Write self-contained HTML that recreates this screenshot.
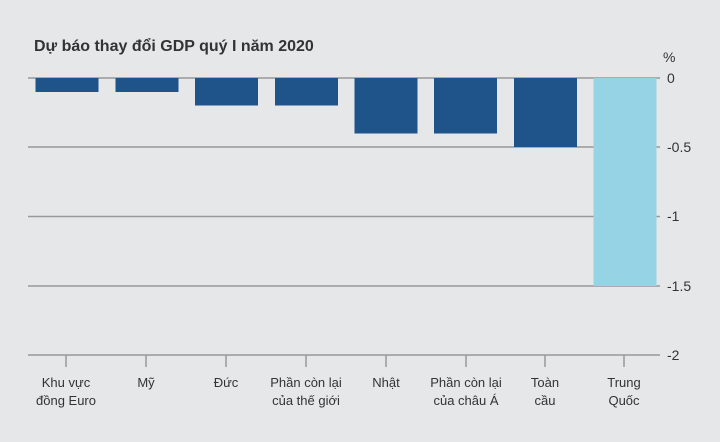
<!DOCTYPE html>
<html><head><meta charset="utf-8"><style>
body{margin:0;background:#e6e7e9;}
svg{display:block;font-family:"Liberation Sans","DejaVu Sans",sans-serif;}
</style></head><body>
<svg width="720" height="442" viewBox="0 0 720 442">
<rect width="720" height="442" fill="#e6e7e9"/>
<text x="34" y="51" font-size="16" font-weight="bold" fill="#333">Dự báo thay đổi GDP quý I năm 2020</text>
<g stroke="#999" stroke-width="1.5">
<line x1="28" x2="660" y1="147" y2="147"/>
<line x1="28" x2="660" y1="216.5" y2="216.5"/>
<line x1="28" x2="660" y1="286" y2="286"/>
<line x1="28" x2="660" y1="355" y2="355"/>
<line x1="28" x2="660" y1="78" y2="78"/>
</g>
<g fill="#1f548a">
<rect x="35.5" y="78" width="63" height="14"/>
<rect x="115.5" y="78" width="63" height="14"/>
<rect x="195" y="78" width="63" height="27.5"/>
<rect x="275" y="78" width="63" height="27.5"/>
<rect x="354.5" y="78" width="63" height="55.5"/>
<rect x="434" y="78" width="63" height="55.5"/>
<rect x="514" y="78" width="63" height="69"/>
</g>
<rect x="593.5" y="78" width="63" height="208" fill="#95d3e5"/>
<g stroke="#999" stroke-width="1.5">
<line x1="66" x2="66" y1="355" y2="367"/>
<line x1="146" x2="146" y1="355" y2="367"/>
<line x1="226" x2="226" y1="355" y2="367"/>
<line x1="306" x2="306" y1="355" y2="367"/>
<line x1="386" x2="386" y1="355" y2="367"/>
<line x1="466" x2="466" y1="355" y2="367"/>
<line x1="545" x2="545" y1="355" y2="367"/>
<line x1="624" x2="624" y1="355" y2="367"/>
</g>
<g font-size="14" fill="#333">
<text x="663" y="62">%</text>
<text x="667" y="83">0</text>
<text x="667" y="152">-0.5</text>
<text x="667" y="221">-1</text>
<text x="667" y="291">-1.5</text>
<text x="667" y="360">-2</text>
</g>
<g font-size="13" fill="#333" text-anchor="middle">
<text x="66" y="387">Khu vực</text><text x="66" y="405">đồng Euro</text>
<text x="146" y="387">Mỹ</text>
<text x="226" y="387">Đức</text>
<text x="306" y="387">Phần còn lại</text><text x="306" y="405">của thế giới</text>
<text x="386" y="387">Nhật</text>
<text x="466" y="387">Phần còn lại</text><text x="466" y="405">của châu Á</text>
<text x="545" y="387">Toàn</text><text x="545" y="405">cầu</text>
<text x="624" y="387">Trung</text><text x="624" y="405">Quốc</text>
</g>
</svg>
</body></html>
